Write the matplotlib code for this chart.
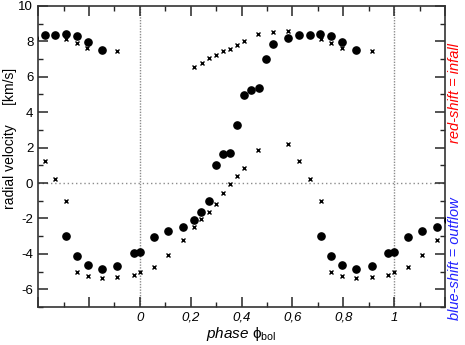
import numpy as np
import matplotlib
matplotlib.use("Agg")
import matplotlib.pyplot as plt
from matplotlib.ticker import MultipleLocator, FixedLocator

plt.rcParams['font.family'] = ['Liberation Sans', 'DejaVu Sans']
plt.rcParams['mathtext.fontset'] = 'custom'
plt.rcParams['mathtext.rm'] = 'Liberation Sans'
plt.rcParams['mathtext.it'] = 'Liberation Sans:italic'
plt.rcParams['axes.unicode_minus'] = False

# one pulsation cycle, big dots
fase_punto = [0.000, 0.056, 0.111, 0.168, 0.213, 0.241, 0.270, 0.298, 0.326,
              0.354, 0.382, 0.409, 0.437, 0.467, 0.495, 0.524, 0.584, 0.626,
              0.668, 0.710, 0.752, 0.795, 0.850,
              0.711, 0.752, 0.795, 0.850, 0.912, 0.976]
vel_punto = [-3.87, -3.07, -2.73, -2.47, -2.07, -1.62, -1.02, 1.04, 1.64,
             1.68, 3.30, 4.98, 5.26, 5.34, 6.98, 7.83, 8.17, 8.36,
             8.36, 8.43, 8.30, 7.98, 7.49,
             -2.97, -4.11, -4.62, -4.87, -4.66, -3.96]

# one pulsation cycle, small crosses
fase_cruz = [0.000, 0.056, 0.111, 0.168, 0.213, 0.241, 0.270, 0.298, 0.326,
             0.354, 0.382, 0.411, 0.466, 0.584, 0.626, 0.668, 0.711,
             0.214, 0.243, 0.270, 0.298, 0.326, 0.354, 0.383, 0.411, 0.466,
             0.522, 0.584, 0.711, 0.752, 0.794, 0.912,
             0.752, 0.795, 0.850, 0.912, 0.976]
vel_cruz = [-5.04, -4.73, -4.05, -3.20, -2.46, -2.02, -1.66, -1.17, -0.57,
            -0.06, 0.42, 0.87, 1.89, 2.23, 1.23, 0.23, -1.02,
            6.53, 6.77, 7.04, 7.23, 7.44, 7.58, 7.77, 8.02, 8.40,
            8.51, 8.57, 8.12, 7.89, 7.64, 7.47,
            -5.02, -5.22, -5.35, -5.32, -5.17]

xticks = [0, 0.2, 0.4, 0.6, 0.8, 1]
xtick_labels = ["0", "0,2", "0,4", "0,6", "0,8", "1"]


def main():
    fig = plt.figure(figsize=(4.65, 3.45), dpi=100)
    ax = fig.add_axes([0.082, 0.110, 0.875, 0.873])

    ax.axhline(0, color='0.55', ls=(0, (1, 2)), lw=1, zorder=1)
    ax.axvline(0, color='0.55', ls=(0, (1, 1)), lw=1, zorder=1)
    ax.axvline(1, color='0.55', ls=(0, (1, 1)), lw=1, zorder=1)

    fp = np.array(fase_punto)
    vp = np.array(vel_punto)
    fc = np.array(fase_cruz)
    vc = np.array(vel_cruz)
    # the cycle is drawn three times, shifted by one period
    for desplaza in [-1, 0, 1]:
        ax.plot(fp + desplaza, vp, 'o', color='black', ms=5.2, zorder=3)
        ax.plot(fc + desplaza, vc, 'x', color='black', ms=2.6, mew=1.0, zorder=3)

    ax.xaxis.set_major_locator(MultipleLocator(0.2))
    ax.xaxis.set_minor_locator(MultipleLocator(0.1))
    ax.yaxis.set_major_locator(FixedLocator([-6, -4, -2, 0, 2, 4, 6, 8, 10]))
    ax.yaxis.set_minor_locator(MultipleLocator(1))
    ticks = np.arange(-0.4, 1.21, 0.2)
    etiquetas = []
    for t in ticks:
        if -0.01 < t < 1.01:
            etiquetas.append(xtick_labels[int(round(t / 0.2))])
        else:
            etiquetas.append("")
    ax.set_xticks(ticks)
    ax.set_xticklabels(etiquetas, fontstyle='italic', fontsize=10)
    ax.set_xlim(-0.4, 1.2)
    ax.set_ylim(-7, 10)
    ax.tick_params(which='both', direction='in', top=True, right=True,
                   colors='0.15', labelcolor='black')
    ax.tick_params(which='major', length=7, width=1.1, labelsize=9.5)
    ax.tick_params(which='minor', length=3.5, width=1)
    for s in ax.spines.values():
        s.set_linewidth(1.2)
        s.set_color('0.2')

    ax.set_ylabel("radial velocity     [km/s]", fontsize=10)
    ax.yaxis.set_label_coords(-0.052, 0.56)
    ax.set_xlabel(r"$\it{phase}\ \mathrm{\phi}_{\rm bol}$", fontsize=11, labelpad=1)

    fig.text(0.978, 0.73, "red-shift = infall", color='#ff0000', rotation=90,
             ha='center', va='center', fontstyle='italic', fontsize=10.5)
    fig.text(0.978, 0.25, "blue-shift = outflow", color='#2222ff', rotation=90,
             ha='center', va='center', fontstyle='italic', fontsize=10.5)

    fig.savefig("out.png", dpi=100)


if __name__ == '__main__':
    main()
